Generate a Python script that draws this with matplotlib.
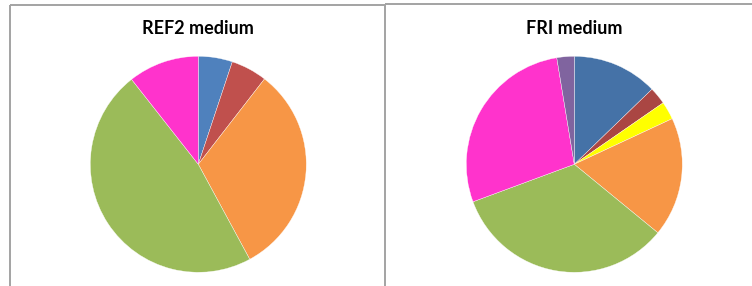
import matplotlib
matplotlib.use("Agg")
import matplotlib.pyplot as plt
from matplotlib.lines import Line2D

# shares, clockwise from 12 o'clock
ref2_labels = ["blue", "red", "orange", "green", "pink"]
ref2_values = [5.1, 5.4, 31.6, 47.3, 10.6]
ref2_colors = ["#4F81BD", "#C0504D", "#F79646", "#9BBB59", "#FF33CC"]

fri_labels = ["blue", "red", "yellow", "orange", "green", "pink", "purple"]
fri_values = [12.8, 2.6, 2.7, 17.9, 33.5, 28.1, 2.6]
fri_colors = ["#4572A7", "#AA4643", "#FFFF00", "#F79646", "#9BBB59", "#FF33CC", "#80649F"]

titles = ["REF2 medium", "FRI medium"]

W, H = 752, 286
fig = plt.figure(figsize=(W / 100, H / 100), dpi=100)
fig.patch.set_facecolor("white")


def px_axes(cx, cy, r):
    # cx, cy in pixels from top-left
    return fig.add_axes([(cx - r) / W, (H - cy - r) / H, 2 * r / W, 2 * r / H])


def draw_pie(cx, values, colors, title):
    ax = px_axes(cx, 164.3, 108)
    ax.pie(values, colors=colors, startangle=90, counterclock=False,
           radius=1.0, wedgeprops=dict(edgecolor="white", linewidth=0.25))
    ax.set_xlim(-1, 1)
    ax.set_ylim(-1, 1)
    ax.set_aspect("equal")
    ax.axis("off")
    fig.text(cx / W, (H - 29) / H, title, ha="center", va="center",
             fontsize=13, fontweight="bold", family=["Lato", "DejaVu Sans"])


# chart frames (open at the bottom, right one runs off the edge)
frame = dict(color="#A3A3A3", linewidth=1.4, solid_capstyle="butt")
fig.add_artist(Line2D([9.5 / W, 9.5 / W], [0, (H - 4.7) / H], **frame))
fig.add_artist(Line2D([9.5 / W, 385 / W], [(H - 4.7) / H, (H - 4.7) / H], **frame))
fig.add_artist(Line2D([385 / W, 385 / W], [0, (H - 4.2) / H], **frame))
fig.add_artist(Line2D([385 / W, 1.0], [(H - 4.2) / H, (H - 4.2) / H], **frame))

draw_pie(198.3, ref2_values, ref2_colors, titles[0])
draw_pie(574.3, fri_values, fri_colors, titles[1])

fig.savefig("out.png", dpi=100)
